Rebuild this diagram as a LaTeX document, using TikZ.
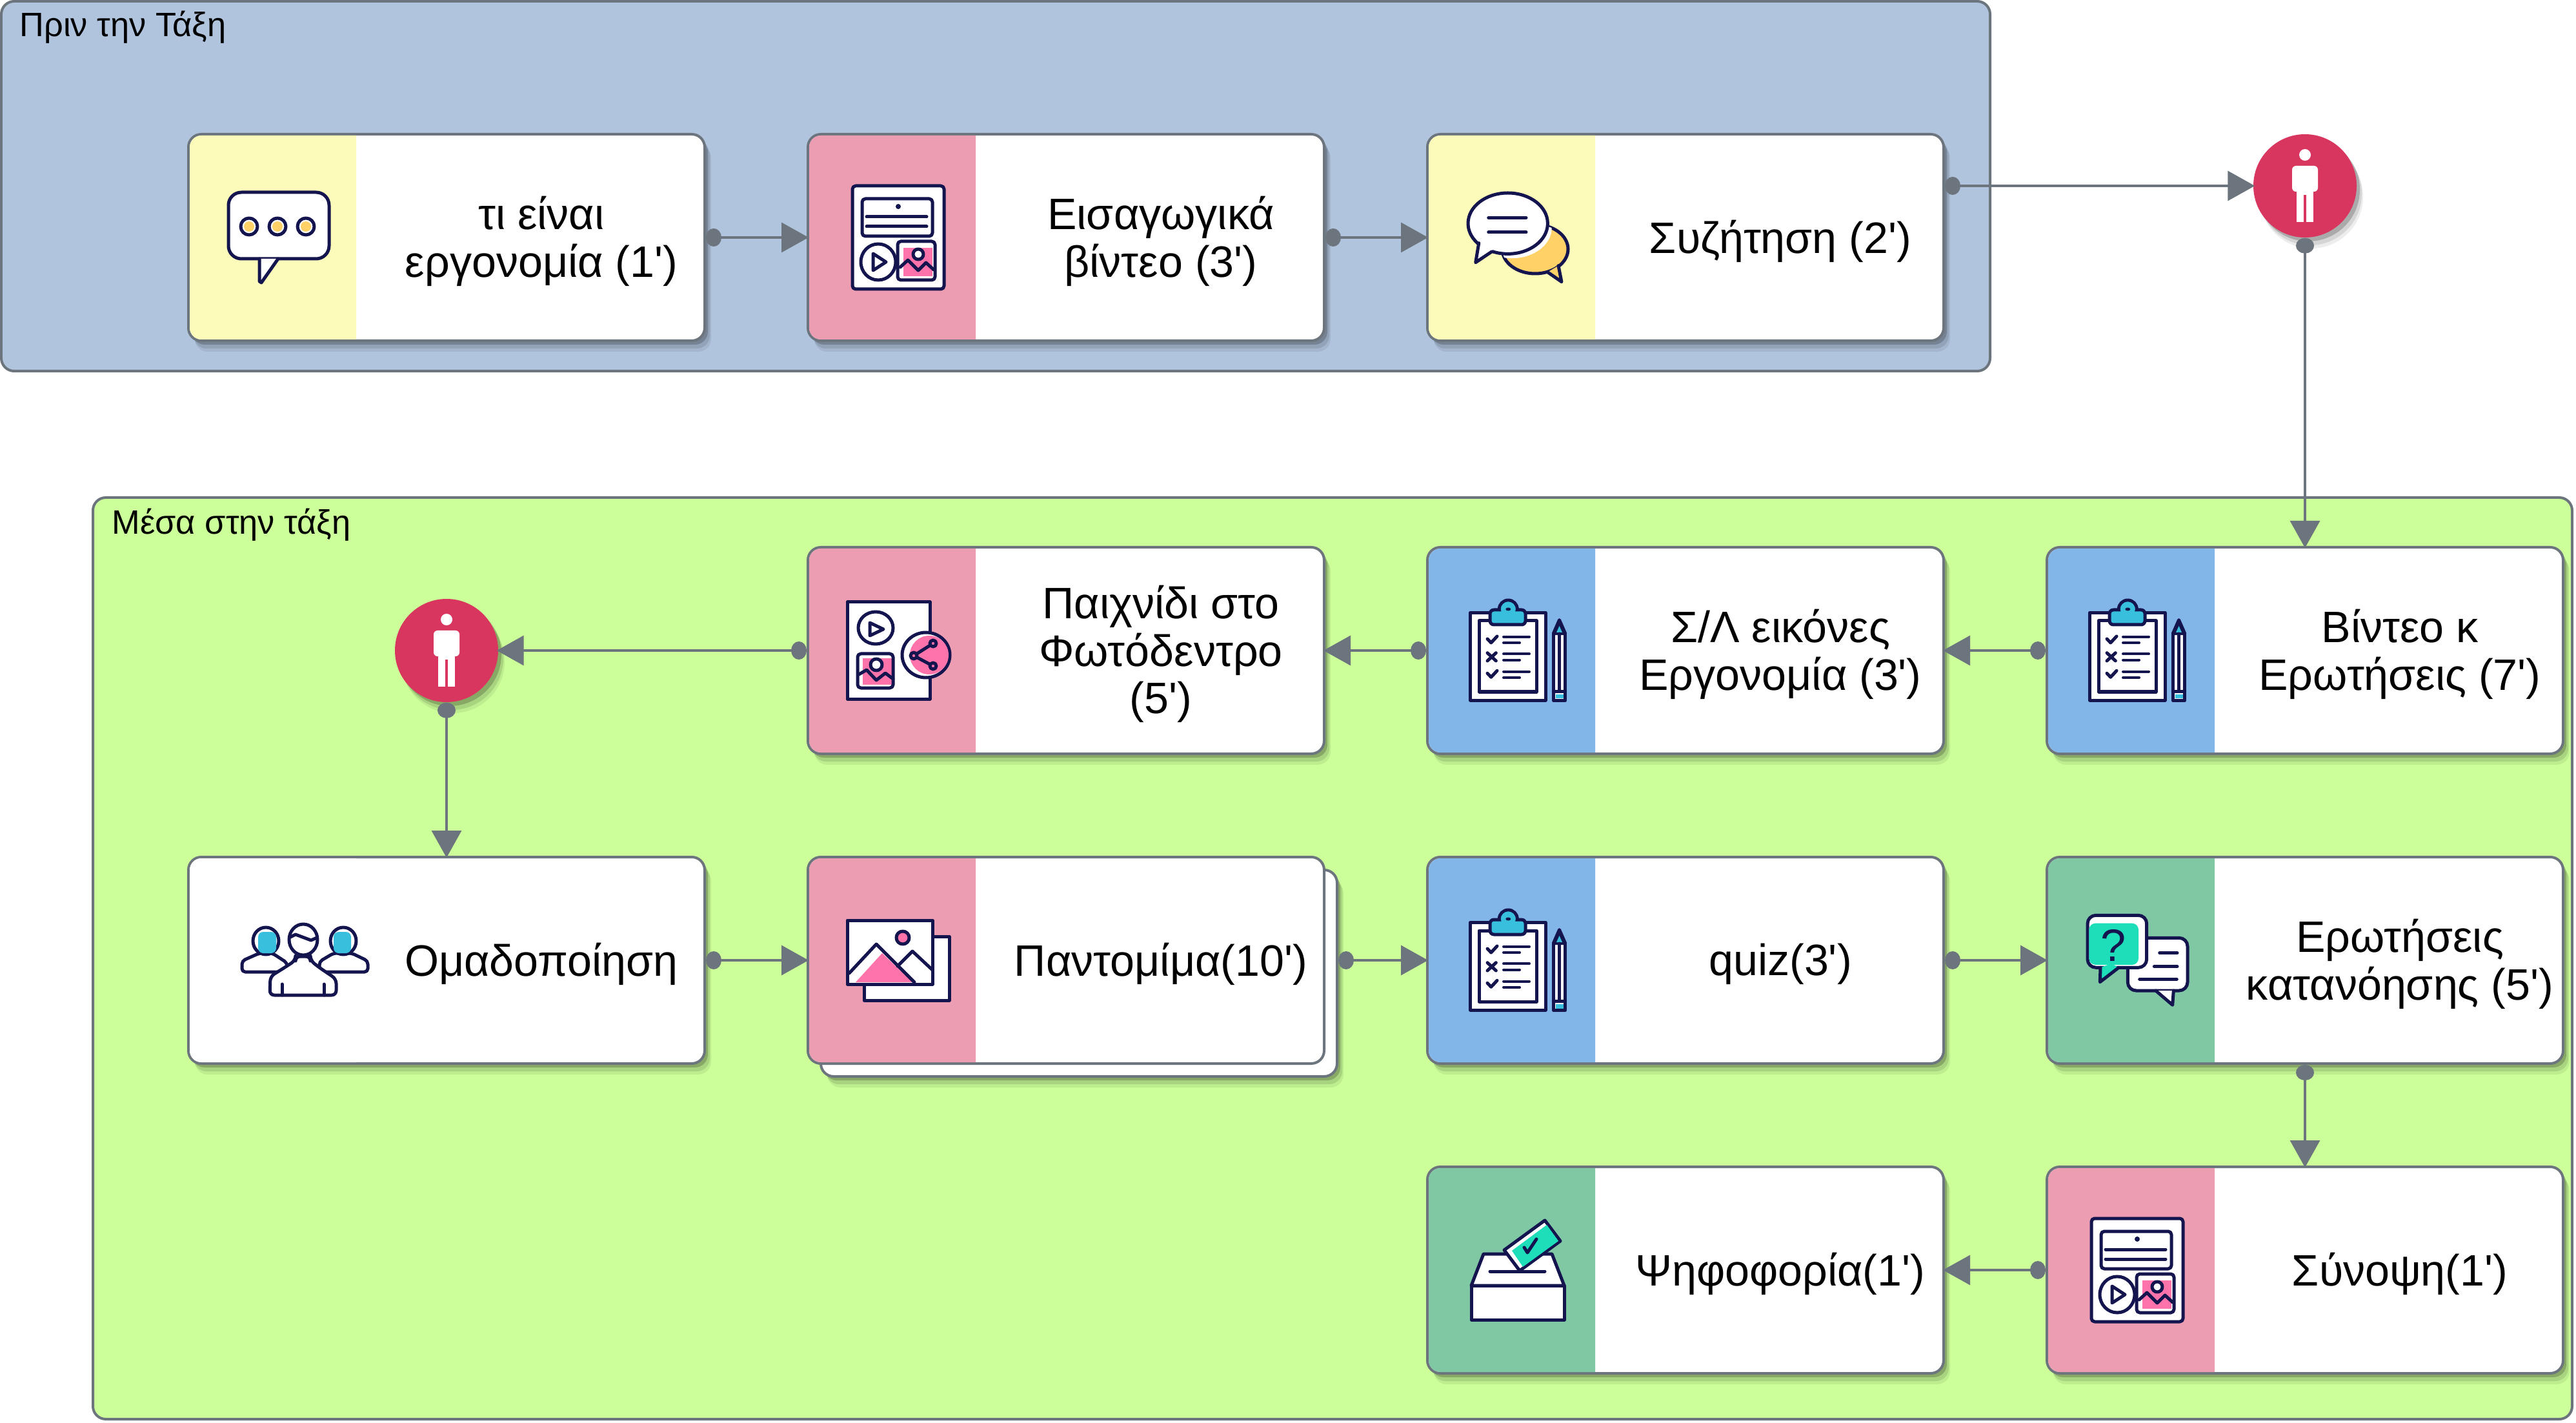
\documentclass[tikz,border=0pt]{standalone}
\usepackage{fontspec}
\setmainfont{Liberation Sans}
\usetikzlibrary{arrows.meta, shadows}

\definecolor{slate}{HTML}{6C757D}
\definecolor{groupblue}{HTML}{B0C4DE}
\definecolor{groupgreen}{HTML}{CCFF99}
\definecolor{paleyellow}{HTML}{FDFBB9}
\definecolor{rosepink}{HTML}{EC9DB2}
\definecolor{skyblue}{HTML}{82B6E8}
\definecolor{seagreen}{HTML}{80C8A4}
\definecolor{crimson}{HTML}{D9365F}
\definecolor{inkblue}{HTML}{14144F}
\definecolor{honey}{HTML}{FFD166}
\definecolor{hotpink}{HTML}{FF73AB}
\definecolor{clipcyan}{HTML}{38BFDD}
\definecolor{tealfill}{HTML}{1EDDB9}

\tikzset{
  softshadow/.style={
    drop shadow={shadow xshift=.1cm, shadow yshift=-.17cm, opacity=.07, fill=black},
    drop shadow={shadow xshift=.08cm, shadow yshift=-.12cm, opacity=.1, fill=black},
    drop shadow={shadow xshift=.05cm, shadow yshift=-.06cm, opacity=.2, fill=black}},
  groupbox/.style={draw=slate, line width=.04cm, rounded corners=.2cm},
  grouplabel/.style={anchor=base west, inner sep=0pt, font=\fontsize{14.9}{17}\selectfont},
  cardflat/.style={draw=slate, fill=white, line width=.04cm, rounded corners=.2cm,
    minimum width=8cm, minimum height=3.2cm},
  card/.style={cardflat, softshadow},
  cardtext/.style={align=center, inner sep=0pt, font=\fontsize{19.4}{21}\selectfont},
  persona/.style={circle, fill=crimson, minimum size=1.6cm, inner sep=0pt, softshadow},
  flow/.style={draw=slate, line width=.035cm, shorten >=-.03cm,
    {Circle[length=.24cm, width=.28cm]}-{Triangle[length=.42cm, width=.46cm]}},
  ink/.style={draw=inkblue, line width=.05cm, line join=round, line cap=round},
  bubbledots/.pic={
    \filldraw[ink, fill=white, rounded corners=.2cm] (-.78,.7) rectangle (.78,-.33);
    \fill[white] (-.3,-.33) -- (-.3,-.68) -- (-.27,-.7) -- (-.01,-.33) -- cycle;
    \draw[ink] (-.3,-.33) -- (-.3,-.68) -- (-.27,-.7) -- (-.01,-.33);
    \foreach \dx in {-.46,-.02,.42} {
      \filldraw[ink, fill=white] (\dx,.17) circle[radius=.13];
      \fill[honey] (\dx,.17) circle[radius=.08];
    }
  },
  vidpanel/.pic={
    \filldraw[ink, fill=white, rounded corners=.05cm] (-.71,.8) rectangle (.71,-.8);
    \draw[ink, rounded corners=.05cm] (-.56,.6) rectangle (.53,.02);
    \fill[inkblue] (0,.48) circle[radius=.04];
    \draw[ink] (-.49,.32) -- (.44,.32);
    \draw[ink] (-.49,.17) -- (.44,.17);
    \draw[ink] (-.31,-.38) circle[x radius=.27, y radius=.28];
    \draw[ink] (-.39,-.25) -- (-.19,-.38) -- (-.39,-.51) -- cycle;
    \fill[hotpink] (.08,-.16) rectangle (.53,-.6);
    \draw[ink, rounded corners=.05cm] (-.01,-.06) rectangle (.57,-.66);
    \filldraw[ink, fill=white] (.31,-.26) circle[radius=.08];
    \draw[ink] (.03,-.46) -- (.15,-.35) -- (.31,-.51) -- (.43,-.39) -- (.55,-.5);
  },
  talkbubbles/.pic={
    \filldraw[ink, fill=honey] (.27,-.18) circle[x radius=.51, y radius=.38];
    \fill[honey] (.63,-.437) -- (.68,-.687) -- (.463,-.537) -- cycle;
    \draw[ink] (.63,-.437) -- (.68,-.687) -- (.463,-.537);
    \begin{scope}
      \clip (.27,-.18) circle[x radius=.51, y radius=.38];
      \fill[white] (-.09,.15) circle[x radius=.617, y radius=.472];
    \end{scope}
    \filldraw[ink, fill=white] (-.153,.218) circle[x radius=.617, y radius=.472];
    \fill[white] (-.603,-.087) -- (-.653,-.387) -- (-.403,-.22) -- (-.3,0) -- cycle;
    \draw[ink] (-.603,-.087) -- (-.653,-.387) -- (-.403,-.22);
    \draw[ink] (-.453,.307) -- (.13,.307);
    \draw[ink] (-.453,.08) -- (.13,.08);
  },
  clipboard/.pic={
    \filldraw[ink, fill=white] (-.737,.587) rectangle (.43,-.77);
    \draw[ink] (-.6,.46) rectangle (.29,-.64);
    \filldraw[ink, fill=clipcyan] (-.147,.64) circle[radius=.14];
    \filldraw[ink, fill=clipcyan, rounded corners=.06cm] (-.43,.63) -- (.12,.63) -- (.12,.4) -- (-.43,.4) -- cycle;
    \fill[clipcyan] (-.147,.64) circle[radius=.115];
    \fill[inkblue] (-.147,.64) circle[x radius=.04, y radius=.025];
    \foreach \ly/\sy in {.213/.12, -.053/-.147, -.327/-.42} {
      \draw[ink, line width=.04cm] (-.22,\ly) -- (.18,\ly);
      \draw[ink, line width=.04cm] (-.22,\sy) -- (.03,\sy);
    }
    \draw[ink] (-.47,.18) -- (-.413,.12) -- (-.32,.22);
    \draw[ink] (-.47,-.037) -- (-.337,-.16) (-.337,-.037) -- (-.47,-.16);
    \draw[ink] (-.47,-.353) -- (-.413,-.413) -- (-.32,-.313);
    \filldraw[ink, fill=white] (.553,.263) rectangle (.737,-.777);
    \filldraw[ink, fill=inkblue] (.553,.263) -- (.645,.473) -- (.737,.263) -- cycle;
    \fill[clipcyan] (.6,.28) -- (.645,.38) -- (.69,.28) -- cycle;
    \fill[clipcyan] (.585,-.68) rectangle (.705,-.745);
    \draw[ink] (.553,-.637) -- (.737,-.637);
    \draw[ink] (.645,.26) -- (.645,-.62);
  },
  sharedoc/.pic={
    \filldraw[ink, fill=white] (-.79,.75) rectangle (.49,-.75);
    \draw[ink] (-.35,.35) circle[x radius=.27, y radius=.25];
    \draw[ink] (-.44,.43) -- (-.23,.33) -- (-.44,.23) -- cycle;
    \fill[hotpink] (-.55,-.12) rectangle (-.1,-.53);
    \draw[ink, rounded corners=.05cm] (-.63,-.05) rectangle (-.08,-.58);
    \filldraw[ink, fill=white] (-.34,-.22) circle[radius=.09];
    \draw[ink] (-.61,-.37) -- (-.49,-.3) -- (-.34,-.46) -- (-.2,-.35) -- (-.08,-.44);
    \filldraw[ink, fill=white] (.43,-.07) circle[x radius=.37, y radius=.35];
    \fill[hotpink] (.48,-.07) circle[radius=.3];
    \draw[ink] (.54,.11) -- (.24,-.08) -- (.54,-.24);
    \foreach \nx/\ny in {.54/.11, .24/-.08, .54/-.24}
      \filldraw[ink, fill=hotpink] (\nx,\ny) circle[radius=.05];
  },
  gallery/.pic={
    \filldraw[ink, fill=white] (-.53,.37) rectangle (.79,-.62);
    \filldraw[ink, fill=white] (-.79,.62) rectangle (.53,-.37);
    \fill[hotpink] (-.25,.11) -- (-.66,-.34) -- (.22,-.34) -- cycle;
    \draw[ink] (-.76,-.2) -- (-.34,.25) -- (.25,-.34);
    \draw[ink] (-.01,-.09) -- (.22,.14) -- (.53,-.15);
    \filldraw[ink, fill=hotpink] (.07,.35) circle[radius=.1];
  },
  team/.pic={
    \begin{scope}[xshift=.4cm]
    \filldraw[ink, fill=white, rounded corners=.05cm] (-.7,.11) -- (-.97,-.01) -- (-.97,-.18) -- (-.49,-.18) -- (-.27,-.18) -- (-.27,-.04) -- (-.5,.11) -- cycle;
    \filldraw[ink, fill=white, rounded corners=.05cm] (.73,.11) -- (.98,-.01) -- (.98,-.18) -- (.23,-.18) -- (.23,-.02) -- (.45,.11) -- cycle;
    \filldraw[ink, fill=white] (-.6,.3) circle[x radius=.2, y radius=.21];
    \filldraw[ink, fill=white] (.6,.3) circle[x radius=.2, y radius=.21];
    \fill[clipcyan, rounded corners=.08cm] (-.72,.44) rectangle (-.44,.11);
    \fill[clipcyan, rounded corners=.08cm] (.45,.44) rectangle (.72,.11);
    \filldraw[ink, fill=white, rounded corners=.07cm] (-.14,.06) -- (-.14,0) -- (-.29,-.1) -- (-.53,-.25) -- (-.54,-.54) -- (.49,-.54) -- (.49,-.29) -- (.21,-.1) -- (.09,0) -- (.09,.06) -- cycle;
    \filldraw[ink, fill=white] (-.02,.32) circle[x radius=.22, y radius=.24];
    \draw[ink] (-.22,.36) -- (-.14,.4) -- (.1,.31) -- (.19,.35);
    \draw[ink] (-.35,-.37) -- (-.35,-.54) (.3,-.37) -- (.3,-.54);
    \end{scope}
  },
  qbubbles/.pic={
    \filldraw[ink, fill=white, rounded corners=.13cm] (-.147,.347) rectangle (.78,-.47);
    \fill[white] (.287,-.47) -- (.547,-.693) -- (.563,-.47) -- cycle;
    \draw[ink] (.287,-.47) -- (.547,-.693) -- (.563,-.47);
    \draw[ink] (.347,.113) -- (.62,.113);
    \draw[ink] (.263,-.097) -- (.62,-.097);
    \draw[ink] (.037,-.293) -- (.613,-.293);
    \filldraw[ink, fill=white, rounded corners=.13cm] (-.77,.697) rectangle (.147,-.113);
    \fill[tealfill, rounded corners=.1cm] (-.747,.573) rectangle (.02,-.07);
    \fill[tealfill] (-.57,-.113) -- (-.577,-.337) -- (-.287,-.113) -- (-.4,-.05) -- cycle;
    \draw[ink] (-.57,-.113) -- (-.577,-.337) -- (-.287,-.113);
    \node[text=inkblue, inner sep=0pt, font=\fontsize{20}{22}\selectfont] (qmark) at (-.37,.23) {?};
  },
  ballot/.pic={
    \filldraw[ink, fill=white] (-.53,.25) -- (.53,.25) -- (.72,-.24) -- (-.72,-.24) -- cycle;
    \draw[ink] (-.43,-.02) -- (.42,-.02);
    \filldraw[ink, fill=white] (.42,.77) -- (.66,.45) -- (.03,-.01) -- (-.21,.31) -- cycle;
    \fill[tealfill] (.45,.7) -- (.63,.45) -- (.08,.05) -- (-.09,.3) -- cycle;
    \draw[ink] (.1,.35) -- (.15,.27) -- (.29,.48);
    \filldraw[ink, fill=white] (-.72,-.24) rectangle (.72,-.77);
  },
  standing/.pic={
    \fill[white] (0,.48) circle[radius=.09];
    \fill[white, rounded corners=.06cm] (-.2,.31) -- (.2,.31) -- (.2,-.09) -- (-.2,-.09) -- cycle;
    \fill[white] (-.13,-.12) rectangle (-.02,-.56);
    \fill[white] (.02,-.12) rectangle (.13,-.56);
    \fill[white] (-.13,-.09) rectangle (.13,-.14);
  }
}

\begin{document}
\begin{tikzpicture}
\useasboundingbox (0,0) rectangle (39.92,22.04);
\node[groupbox, fill=groupblue, minimum width=30.82cm, minimum height=5.73cm] (prin) at (15.43,19.155) {};
\node[grouplabel] (prinlabel) at (.3,21.47) {Πριν την Τάξη};
\node[groupbox, fill=groupgreen, minimum width=38.42cm, minimum height=14.28cm] (mesa) at (20.65,7.19) {};
\node[grouplabel] (mesalabel) at (1.73,13.76) {Μέσα στην τάξη};
\foreach \name/\x/\y/\tone/\icon/\txt in {
  ergo/6.92/18.36/paleyellow/bubbledots/{τι είναι\\εργονομία (1\textquotesingle)},
  eisag/16.52/18.36/rosepink/vidpanel/{Εισαγωγικά\\βίντεο (3\textquotesingle)},
  syzit/26.12/18.36/paleyellow/talkbubbles/{Συζήτηση (2\textquotesingle)},
  paix/16.52/11.96/rosepink/sharedoc/{Παιχνίδι στο\\Φωτόδεντρο\\(5\textquotesingle)},
  sleik/26.12/11.96/skyblue/clipboard/{Σ/Λ εικόνες\\Εργονομία (3\textquotesingle)},
  vinteo/35.72/11.96/skyblue/clipboard/{Βίντεο κ\\Ερωτήσεις (7\textquotesingle)},
  omad/6.92/7.16/white/team/{Ομαδοποίηση},
  quiz/26.12/7.16/skyblue/clipboard/{quiz(3\textquotesingle)},
  erot/35.72/7.16/seagreen/qbubbles/{Ερωτήσεις\\κατανόησης (5\textquotesingle)},
  psif/26.12/2.36/seagreen/ballot/{Ψηφοφορία(1\textquotesingle)},
  synop/35.72/2.36/rosepink/vidpanel/{Σύνοψη(1\textquotesingle)}}
{
  \node[card] (\name) at (\x,\y) {};
  \fill[\tone] (\x-1.4,\y+1.58) [rounded corners=.18cm] -- (\x-3.98,\y+1.58) -- (\x-3.98,\y-1.58) [sharp corners] -- (\x-1.4,\y-1.58) -- cycle;
  \pic at (\x-2.6,\y) {\icon};
  \node[cardtext] (\name text) at (\x+1.47,\y-.055) {\txt};
}
\node[card] (pantback) at (16.72,6.96) {};
\node[cardflat] (pant) at (16.52,7.16) {};
\fill[rosepink] (15.12,8.74) [rounded corners=.18cm] -- (12.54,8.74) -- (12.54,5.58) [sharp corners] -- (15.12,5.58) -- cycle;
\pic at (13.92,7.16) {gallery};
\node[cardtext] (pant text) at (17.99,7.105) {Παντομίμα(10\textquotesingle)};
\node[persona] (persa) at (35.72,19.16) {};
\node[persona] (persb) at (6.92,11.96) {};
\pic at (35.72,19.16) {standing};
\pic at (6.92,11.96) {standing};
\foreach \from/\to in {ergo/eisag, eisag/syzit, persa/vinteo, vinteo/sleik, sleik/paix,
  paix/persb, persb/omad, omad/pant, quiz/erot, erot/synop, synop/psif}
  \draw[flow] (\from) -- (\to);
\draw[flow] (syzit.east |- persa.west) -- (persa.west);
\draw[flow] (pantback.east |- quiz.west) -- (quiz.west);
\end{tikzpicture}
\end{document}
